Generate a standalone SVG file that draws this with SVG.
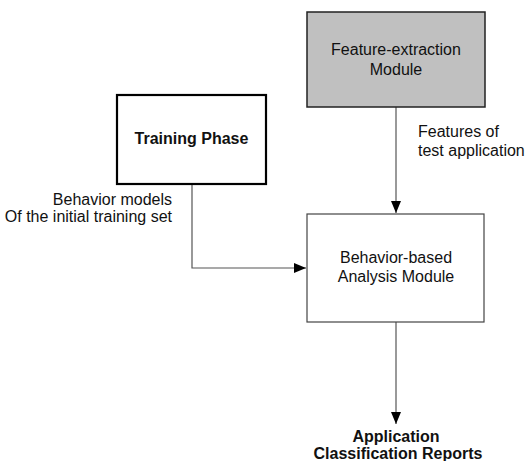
<svg xmlns="http://www.w3.org/2000/svg" width="529" height="461" viewBox="0 0 529 461">
<style>
text{font-family:"Liberation Sans",Arial,sans-serif;font-size:16px;fill:#111}
.b{font-weight:bold}
.c{text-anchor:middle}
.e{text-anchor:end}
.ln{fill:none;stroke:#555;stroke-width:1.2}
</style>
<defs>
<marker id="ah" markerWidth="12" markerHeight="10" refX="12" refY="5" orient="auto" markerUnits="userSpaceOnUse">
<path d="M0,0 L12,5 L0,10 Z" fill="#000"/>
</marker>
</defs>
<rect width="529" height="461" fill="#fff"/>
<g id="connectors">
<path class="ln" d="M396,107 V213" marker-end="url(#ah)"/>
<path class="ln" d="M192,184 V268 H306" marker-end="url(#ah)"/>
<path class="ln" d="M396,322 V424" marker-end="url(#ah)"/>
<text x="418" y="137">Features of</text>
<text x="418" y="156">test application</text>
<text class="e" x="172" y="205">Behavior models</text>
<text class="e" x="172" y="222">Of the initial training set</text>
</g>
<g id="feature-extraction">
<rect x="307" y="12" width="178" height="95" fill="#c0c0c0" stroke="#222" stroke-width="1.5"/>
<text class="c" x="396" y="55">Feature-extraction</text>
<text class="c" x="396" y="75">Module</text>
</g>
<g id="training-phase">
<rect x="117" y="95" width="149" height="89" fill="#fff" stroke="#000" stroke-width="2.2"/>
<text class="c b" x="191.5" y="144">Training Phase</text>
</g>
<g id="behavior-analysis">
<rect x="307" y="214" width="177" height="108" fill="#fff" stroke="#444" stroke-width="1.2"/>
<text class="c" x="396" y="263">Behavior-based</text>
<text class="c" x="396" y="282">Analysis Module</text>
</g>
<g id="reports">
<text class="c b" x="396" y="442">Application</text>
<text class="c b" x="398" y="459">Classification Reports</text>
</g>
</svg>
